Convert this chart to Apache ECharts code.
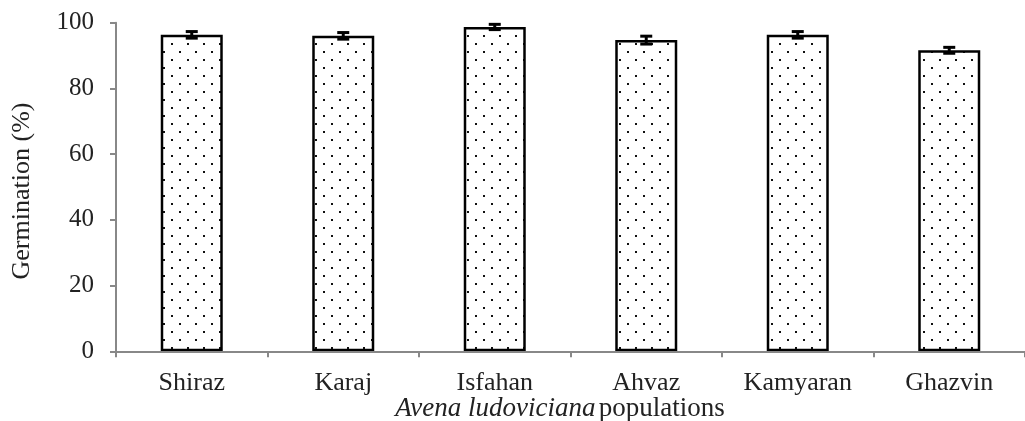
<!DOCTYPE html>
<html>
<head>
<meta charset="utf-8">
<script src="https://cdn.jsdelivr.net/npm/echarts@6/dist/echarts.min.js"></script>
<style>
  html, body { margin: 0; padding: 0; background: #fff; }
  #chart { width: 1025px; height: 421px; }
</style>
</head>
<body>
<div id="chart"></div>
<script>
const populations = ["Shiraz", "Karaj", "Isfahan", "Ahvaz", "Kamyaran", "Ghazvin"];
const germination = [96.3, 96.0, 98.7, 94.7, 96.3, 91.6];
const stdError = [1.0, 1.0, 0.8, 1.2, 1.0, 0.9];
const yTicks = [0, 20, 40, 60, 80, 100];

const font = "'Liberation Serif', 'Times New Roman', serif";

// dotted fill like the printed figure
const tile = document.createElement("canvas");
tile.width = 16; tile.height = 16;
const tctx = tile.getContext("2d");
tctx.fillStyle = "#fff";
tctx.fillRect(0, 0, 16, 16);
tctx.fillStyle = "#111";
tctx.fillRect(3, 3, 2, 2);
tctx.fillRect(11, 11, 2, 2);

const errData = germination.map((v, i) => [i, v - stdError[i], v + stdError[i]]);

const chart = echarts.init(document.getElementById("chart"));
chart.setOption({
  animation: false,
  grid: { left: 116, top: 22.7, width: 916, height: 328.6 },
  xAxis: {
    type: "category",
    data: populations,
    z: 5,
    axisLine: { lineStyle: { color: "#888", width: 2 } },
    axisTick: { show: true, length: 6, lineStyle: { color: "#888", width: 2 } },
    axisLabel: { fontFamily: font, fontSize: 26, color: "#222", margin: 19 }
  },
  yAxis: {
    type: "value",
    min: yTicks[0],
    max: yTicks[yTicks.length - 1],
    interval: 20,
    axisLine: { show: true, lineStyle: { color: "#888", width: 2 } },
    axisTick: { show: true, length: 6, lineStyle: { color: "#888", width: 2 } },
    axisLabel: { fontFamily: font, fontSize: 25, color: "#222", margin: 22 },
    splitLine: { show: false }
  },
  series: [
    {
      type: "bar",
      data: germination,
      barWidth: 62,
      itemStyle: {
        color: { image: tile, repeat: "repeat" },
        borderColor: "#000",
        borderWidth: 2.5
      }
    },
    {
      type: "custom",
      data: errData,
      z: 10,
      renderItem: (params, api) => {
        const x = api.value(0);
        const lo = api.coord([x, api.value(1)]);
        const hi = api.coord([x, api.value(2)]);
        const hw = 6;
        const st = { stroke: "#000", lineWidth: 3 };
        return {
          type: "group",
          children: [
            { type: "line", shape: { x1: lo[0], y1: lo[1], x2: hi[0], y2: hi[1] }, style: st },
            { type: "line", shape: { x1: lo[0] - hw, y1: lo[1], x2: lo[0] + hw, y2: lo[1] }, style: st },
            { type: "line", shape: { x1: hi[0] - hw, y1: hi[1], x2: hi[0] + hw, y2: hi[1] }, style: st }
          ]
        };
      }
    }
  ],
  graphic: [
    {
      type: "text",
      x: 22, y: 191,
      rotation: Math.PI / 2,
      style: {
        text: "Germination (%)",
        fontFamily: font, fontSize: 26, fill: "#222",
        align: "center", verticalAlign: "middle"
      }
    },
    {
      type: "text",
      x: 560, y: 409,
      style: {
        text: "{i|Avena ludoviciana} {n|populations}",
        align: "center", verticalAlign: "middle",
        rich: {
          i: { fontFamily: font, fontSize: 27, fontStyle: "italic", fill: "#222" },
          n: { fontFamily: font, fontSize: 27, fill: "#222" }
        }
      }
    }
  ]
});
window.addEventListener("resize", () => chart.resize());
</script>
</body>
</html>
